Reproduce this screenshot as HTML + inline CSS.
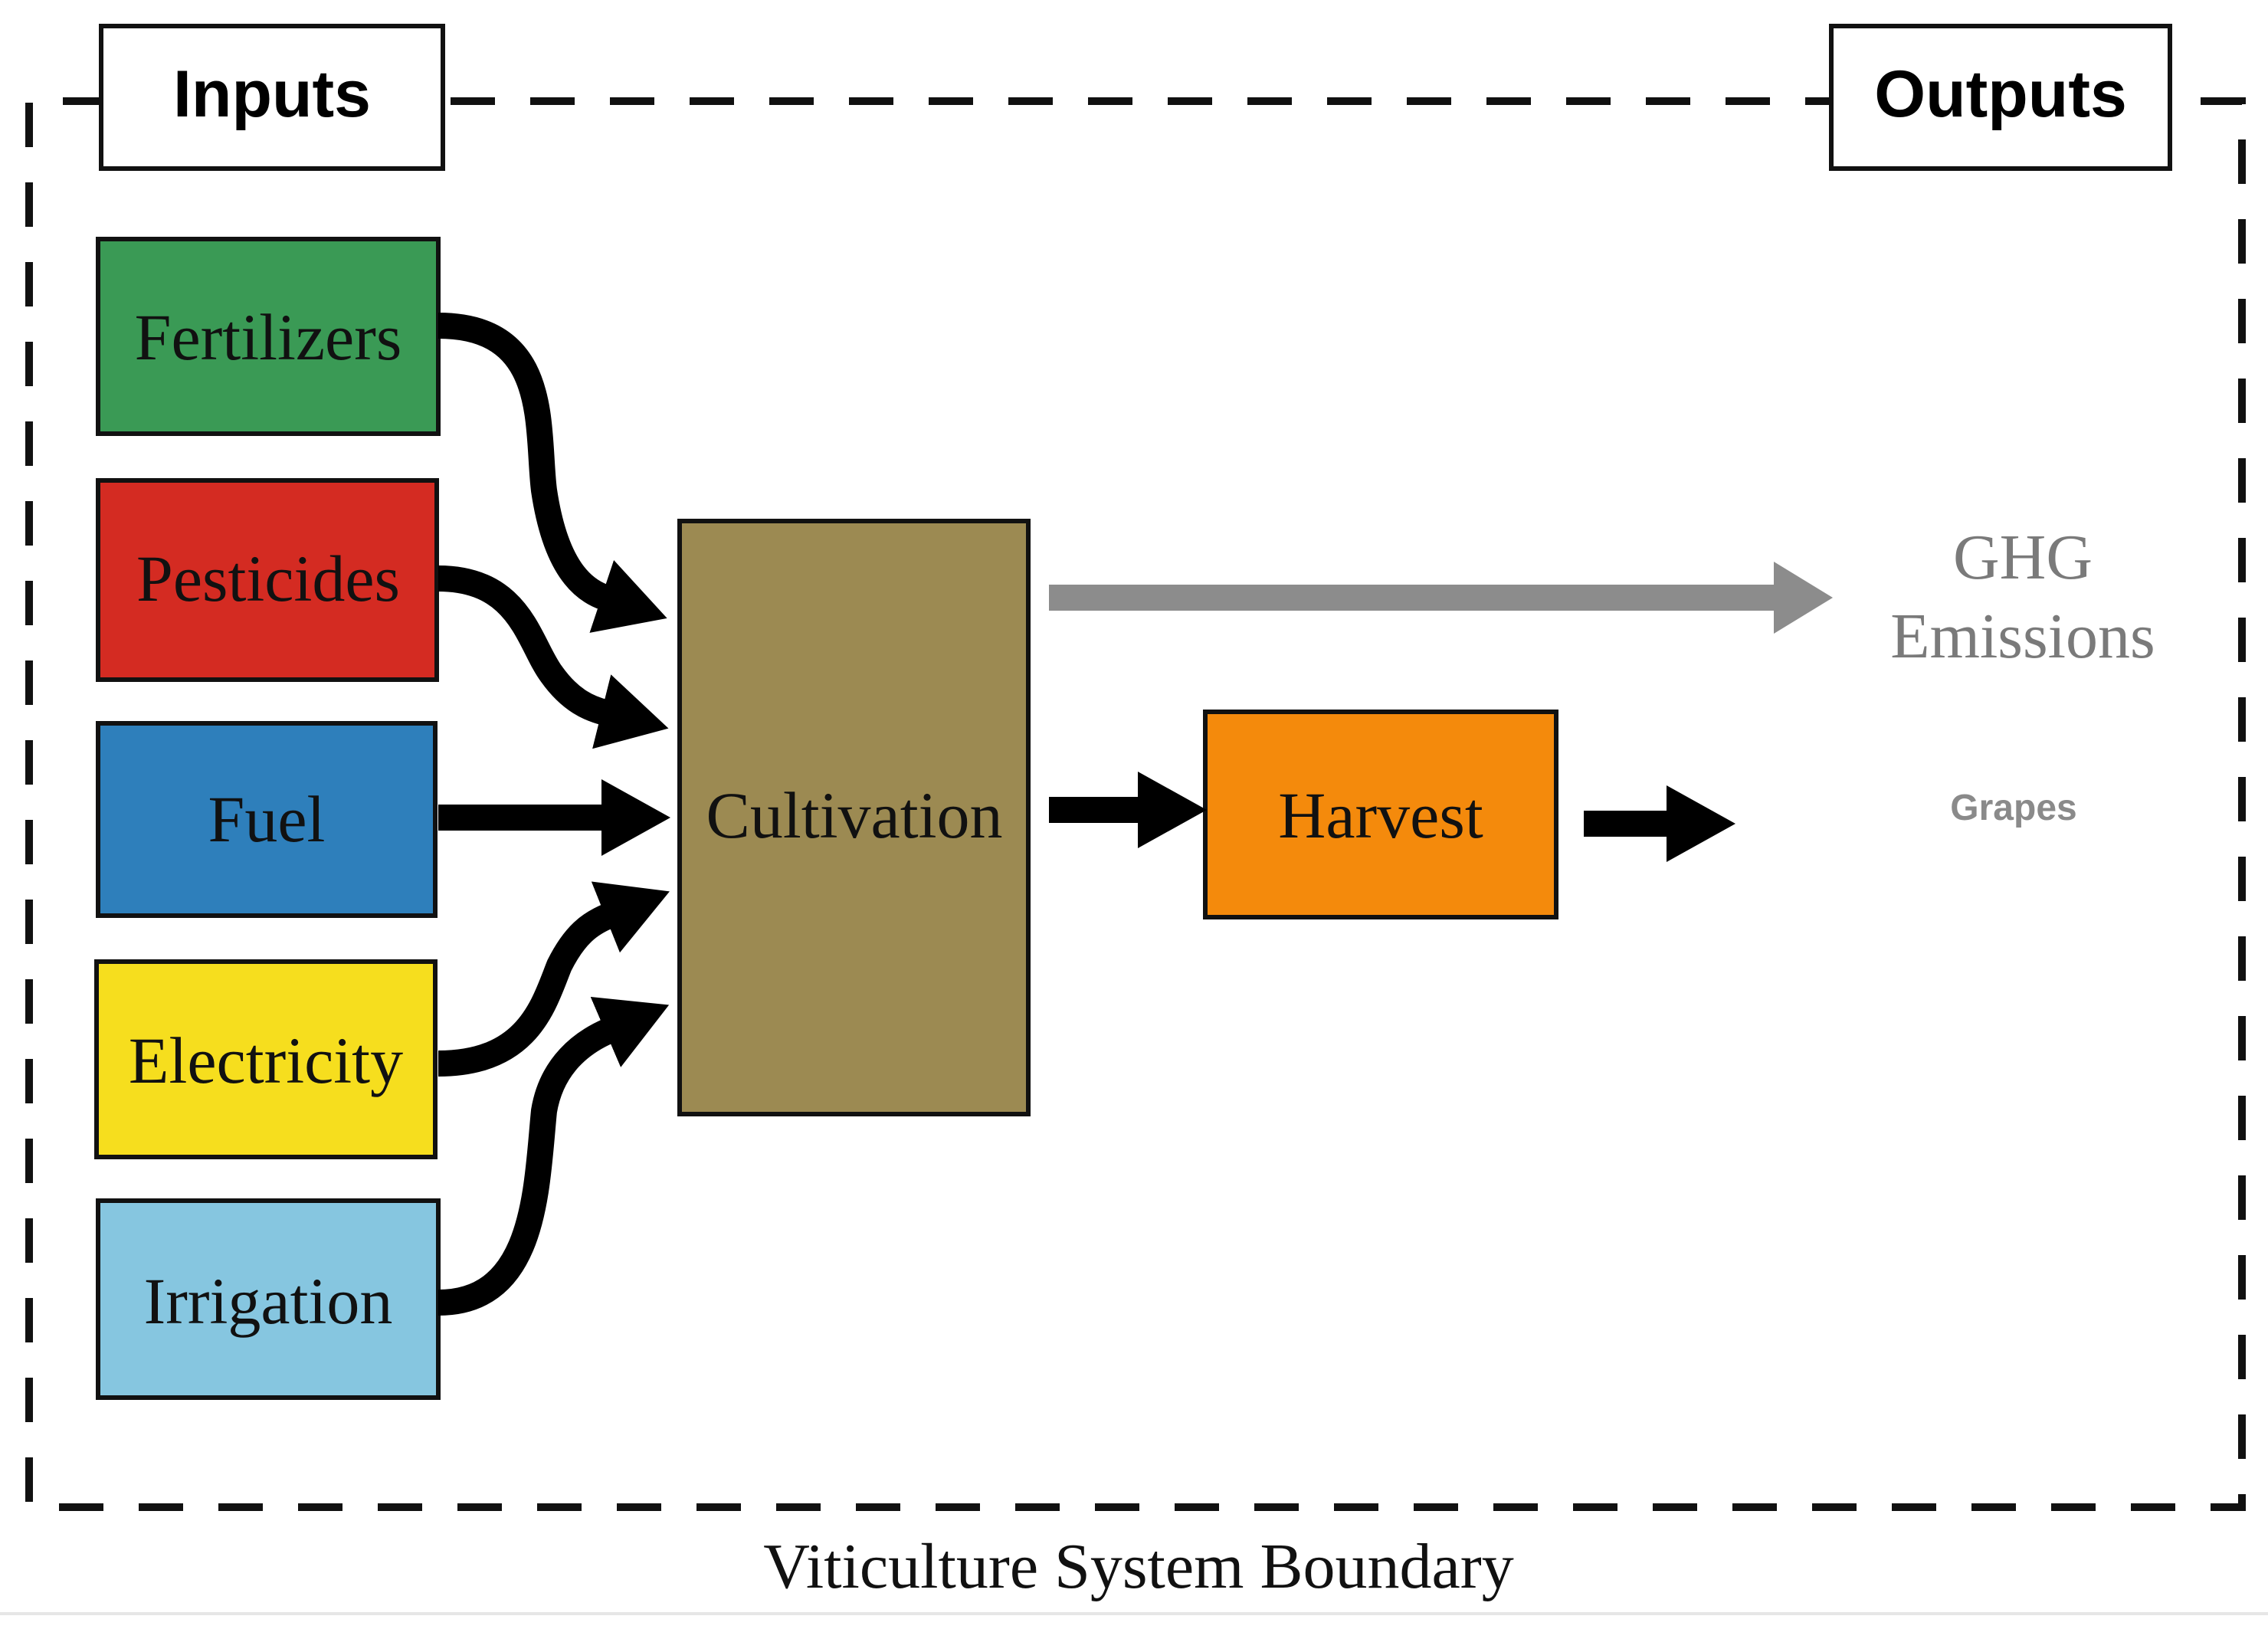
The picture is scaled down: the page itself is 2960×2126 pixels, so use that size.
<!DOCTYPE html>
<html><head><meta charset="utf-8"><style>
html,body{margin:0;padding:0;background:#fff;}
svg{display:block}
</style></head><body>
<svg width="2960" height="2126" viewBox="0 0 2960 2126" xmlns="http://www.w3.org/2000/svg">
<defs>
<marker id="ah" markerUnits="userSpaceOnUse" markerWidth="110" markerHeight="110" refX="5" refY="50" orient="auto">
<path d="M0,0 L90,50 L0,100 Z" fill="#000"/>
</marker>
</defs>
<rect width="2960" height="2126" fill="#fff"/>
<!-- boundary -->
<path d="M140,132 L38,132 L38,1967 L2926,1967 L2926,132 L2388,132" fill="none" stroke="#111" stroke-width="10" stroke-dasharray="58,46"/>
<line x1="578" y1="132" x2="2388" y2="132" stroke="#111" stroke-width="10" stroke-dasharray="58,46" stroke-dashoffset="-10"/>
<!-- Inputs / Outputs -->
<rect x="132" y="34" width="446" height="186" fill="#fff" stroke="#111" stroke-width="6"/>
<text x="355" y="152" font-family="Liberation Sans, sans-serif" font-weight="bold" font-size="86" text-anchor="middle" fill="#000">Inputs</text>
<rect x="2390" y="34" width="442" height="186" fill="#fff" stroke="#111" stroke-width="6"/>
<text x="2611" y="152" font-family="Liberation Sans, sans-serif" font-weight="bold" font-size="86" text-anchor="middle" fill="#000">Outputs</text>
<!-- input boxes -->
<g stroke="#111" stroke-width="6" font-family="Liberation Serif, serif" font-size="86" text-anchor="middle">
<rect x="128" y="312" width="444" height="254" fill="#3a9a55"/>
<rect x="128" y="627" width="442" height="260" fill="#d42b22"/>
<rect x="128" y="944" width="440" height="251" fill="#2e7fbb"/>
<rect x="126" y="1255" width="442" height="255" fill="#f6de1e"/>
<rect x="128" y="1567" width="444" height="257" fill="#86c6e0"/>
<rect x="887" y="680" width="455" height="774" fill="#9c8a52"/>
<rect x="1573" y="929" width="458" height="268" fill="#f48a0c"/>
</g>
<g font-family="Liberation Serif, serif" font-size="86" text-anchor="middle" fill="#111">
<text x="350" y="469">Fertilizers</text>
<text x="350" y="784">Pesticides</text>
<text x="348" y="1098">Fuel</text>
<text x="347" y="1413">Electricity</text>
<text x="350" y="1727">Irrigation</text>
<text x="1115" y="1093">Cultivation</text>
<text x="1802" y="1093">Harvest</text>
</g>
<!-- curved arrows -->
<g fill="none" stroke="#000" stroke-width="34" marker-end="url(#ah)">
<path d="M572,425 C720,425 700,560 710,640 C725,740 760,770 790,780"/>
<path d="M572,755 C680,755 690,840 720,880 C745,915 770,925 790,930"/>
<path d="M572,1067 L790,1067"/>
<path d="M572,1388 C690,1388 710,1310 730,1260 C750,1220 770,1205 795,1195"/>
<path d="M572,1700 C700,1700 700,1550 710,1450 C720,1390 760,1360 795,1345"/>
<path d="M1369,1057 L1490,1057"/>
<path d="M2067,1075 L2180,1075"/>
</g>
<!-- GHG arrow -->
<rect x="1369" y="763" width="950" height="34" fill="#8c8c8c"/>
<path d="M2315,733 L2392,780 L2315,827 Z" fill="#8c8c8c"/>
<text x="2640" y="755" font-family="Liberation Serif, serif" font-size="84" text-anchor="middle" fill="#7a7a7a">GHG</text>
<text x="2640" y="858" font-family="Liberation Serif, serif" font-size="84" text-anchor="middle" fill="#7a7a7a">Emissions</text>
<text x="2628" y="1070" font-family="Liberation Sans, sans-serif" font-weight="bold" font-size="48" text-anchor="middle" fill="#8a8a8a">Grapes</text>
<!-- caption -->
<text x="1486" y="2072" font-family="Liberation Serif, serif" font-size="84" text-anchor="middle" fill="#111">Viticulture System Boundary</text>
<line x1="0" y1="2106" x2="2960" y2="2106" stroke="#e6e6e6" stroke-width="4"/>
</svg>
</body></html>
